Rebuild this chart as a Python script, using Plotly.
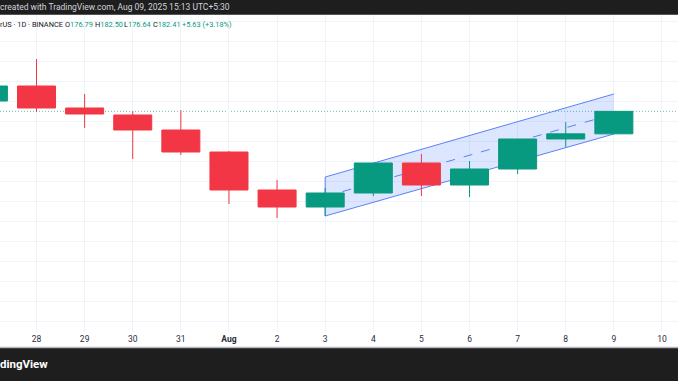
import plotly.graph_objects as go

dates = ["2025-07-27", "2025-07-28", "2025-07-29", "2025-07-30", "2025-07-31",
         "2025-08-01", "2025-08-02", "2025-08-03", "2025-08-04", "2025-08-05",
         "2025-08-06", "2025-08-07", "2025-08-08", "2025-08-09"]
opens  = [185.0, 188.75, 183.25, 181.5, 177.75, 172.25, 162.75, 158.5, 162.0, 169.5, 164.0, 168.0, 175.5, 176.79]
highs  = [190.0, 195.5, 186.75, 182.5, 182.75, 172.5, 165.25, 163.25, 169.5, 171.75, 170.0, 175.5, 179.75, 182.50]
lows   = [183.5, 182.25, 178.25, 170.5, 171.5, 159.25, 155.75, 156.25, 161.25, 161.25, 161.0, 166.75, 173.5, 176.64]
closes = [188.75, 183.25, 181.75, 177.75, 172.25, 162.75, 158.5, 162.0, 169.5, 164.0, 168.0, 175.5, 176.79, 182.41]

tick_dates = ["2025-07-28", "2025-07-29", "2025-07-30", "2025-07-31", "2025-08-01",
              "2025-08-02", "2025-08-03", "2025-08-04", "2025-08-05", "2025-08-06",
              "2025-08-07", "2025-08-08", "2025-08-09", "2025-08-10"]
tick_labels = ["28", "29", "30", "31", "<b>Aug</b>", "2", "3", "4", "5", "6", "7", "8", "9", "10"]

chan_dates = ["2025-08-03", "2025-08-09"]
chan_upper = [166.0, 186.75]
chan_lower = [156.25, 176.75]
chan_mid = [(u + l) / 2 for u, l in zip(chan_upper, chan_lower)]

last_price = 182.41

legend_labels = ["O", "H", "L", "C", ""]
legend_values = ["176.79", "182.50", "176.64", "182.41", "+5.63 (+3.18%)"]
legend_px = [65, 95, 124, 153, 182]

UP = "#089981"
DOWN = "#F23645"
CH_LINE = "#5c80f6"
W, H = 678, 381
T, B = 15, 49
PH = H - T - B

fig = go.Figure()

fig.add_trace(go.Candlestick(
    x=dates, open=opens, high=highs, low=lows, close=closes,
    increasing=dict(line=dict(color=UP, width=1), fillcolor=UP),
    decreasing=dict(line=dict(color=DOWN, width=1), fillcolor=DOWN),
    showlegend=False))

# channel (drawn between grid and candles)
d0, d1 = chan_dates
path = (f"M {d0},{chan_lower[0]} L {d0},{chan_upper[0]} L {d1},{chan_upper[1]} "
        f"L {d1},{chan_lower[1]} Z")
fig.add_shape(type="path", path=path, xref="x", yref="y", layer="between",
              fillcolor="rgba(41,98,255,0.16)", line=dict(width=0))
for ys in (chan_upper, chan_lower):
    fig.add_shape(type="line", xref="x", yref="y", x0=d0, x1=d1, y0=ys[0], y1=ys[1],
                  layer="between", line=dict(color=CH_LINE, width=1))
fig.add_shape(type="line", xref="x", yref="y", x0=d0, x1=d0, y0=chan_lower[0], y1=chan_upper[0],
              layer="between", line=dict(color=CH_LINE, width=1))
fig.add_shape(type="line", xref="x", yref="y", x0=d0, x1=d1, y0=chan_mid[0], y1=chan_mid[1],
              layer="between", line=dict(color=CH_LINE, width=1, dash="dash"))

fig.add_shape(type="line", xref="paper", x0=0, x1=1, yref="y", y0=last_price, y1=last_price,
              line=dict(color="rgba(8,153,129,0.6)", width=1, dash="1px,2px"), layer="between")

# dark bars
fig.add_shape(type="rect", xref="paper", yref="paper", x0=0, x1=1, y0=1, y1=1 + T / PH,
              fillcolor="#1e1e1e", line=dict(width=0))
fig.add_shape(type="line", xref="paper", yref="paper", x0=0, x1=1, y0=1 + 0.5 / PH, y1=1 + 0.5 / PH,
              line=dict(color="#555555", width=1))
fig.add_shape(type="rect", xref="paper", yref="paper", x0=0, x1=1, y0=-B / PH, y1=-16 / PH,
              fillcolor="#1e1e1e", line=dict(width=0))
fig.add_shape(type="line", xref="paper", yref="paper", x0=0, x1=1, y0=-15.5 / PH, y1=-15.5 / PH,
              line=dict(color="#b2b5be", width=1.5))

fig.add_annotation(xref="paper", yref="paper", x=0, y=1 + 7.5 / PH, xanchor="left", yanchor="middle",
                   text="created with TradingView.com, Aug 09, 2025 15:13 UTC+5:30", xshift=-2,
                   showarrow=False, font=dict(color="#d1d4dc", size=8.5, family="Roboto"))
fig.add_annotation(xref="paper", yref="paper", x=0, y=1 - 9 / PH, xanchor="left", yanchor="middle",
                   text="rUS · 1D · BINANCE", showarrow=False, xshift=-2,
                   font=dict(color="#131722", size=7.4, family="Roboto"))
for lab, val, px in zip(legend_labels, legend_values, legend_px):
    fig.add_annotation(xref="paper", yref="paper", x=px / W, y=1 - 9 / PH, xanchor="left",
                       yanchor="middle", showarrow=False, xshift=-2,
                       text=f"{lab}<span style='color:{UP}'>{val}</span>",
                       font=dict(color="#131722", size=7.4, family="Roboto"))
fig.add_annotation(xref="paper", yref="paper", x=0, y=-32 / PH, xanchor="left", yanchor="middle",
                   text="<b>dingView</b>", showarrow=False, xshift=-2,
                   font=dict(color="#ffffff", size=11.5, family="Roboto"))

fig.update_layout(
    width=W, height=H, margin=dict(l=0, r=0, t=T, b=B),
    paper_bgcolor="white", plot_bgcolor="white", boxgap=0.21, boxgroupgap=0,
    xaxis=dict(type="date", range=["2025-07-27 05:47", "2025-08-10 08:00"],
               rangeslider=dict(visible=False), tickvals=tick_dates, ticktext=tick_labels,
               showgrid=True, gridcolor="#f0f3fa", gridwidth=1, zeroline=False, showline=False,
               tickfont=dict(size=8.5, color="#2a2e39", family="Roboto"), ticks=""),
    yaxis=dict(range=[127.25, 206.5], dtick=5, tick0=0, showgrid=True, gridcolor="#f0f3fa",
               showticklabels=False, zeroline=False, showline=False),
    hovermode=False,
)

fig.write_html("out.html", config={"displayModeBar": False},
               post_script="document.body.style.margin='0px';document.body.style.padding='0px';")
